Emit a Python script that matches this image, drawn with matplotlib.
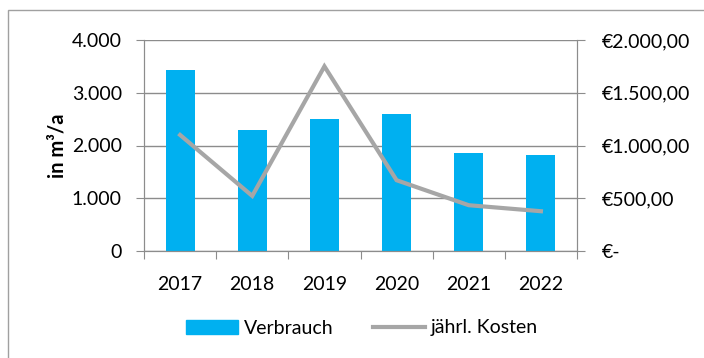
import matplotlib
matplotlib.use("Agg")
import matplotlib.pyplot as plt
from matplotlib.patches import Rectangle
from matplotlib.lines import Line2D

years = ["2017", "2018", "2019", "2020", "2021", "2022"]
verbrauch = [3440, 2300, 2500, 2600, 1850, 1820]
kosten = [1100, 522, 1750, 671, 434, 377]
left_ticks = [0, 1000, 2000, 3000, 4000]
left_labels = ["0", "1.000", "2.000", "3.000", "4.000"]
right_ticks = [0, 500, 1000, 1500, 2000]
right_labels = ["€-", "€500,00", "€1.000,00", "€1.500,00", "€2.000,00"]

plt.rcParams["font.family"] = ["Lato", "DejaVu Sans"]
fs = 14
grid_c = "#8c8c8c"
bar_c = "#00b0f0"
line_c = "#a6a6a6"

fig = plt.figure(figsize=(7.04, 3.58), dpi=100)
W, H = 704, 358
fig.patches.append(Rectangle((8 / W, -0.1), 1.2, 1 - 10 / H + 0.1,
                             transform=fig.transFigure, fill=False,
                             edgecolor="#a0a0a0", linewidth=1.0))

ax = fig.add_axes([144 / W, 1 - 251 / H, (577 - 144) / W, (251 - 40) / H])
x = list(range(len(years)))
ax.bar(x, verbrauch, width=0.4, color=bar_c, zorder=2)
ax.set_xlim(-0.5, len(years) - 0.5)
ax.set_ylim(0, 4000)
ax.set_yticks(left_ticks)
ax.set_yticklabels(left_labels, fontsize=fs)
ax.yaxis.grid(True, color=grid_c, linewidth=1.0, zorder=0)
ax.set_axisbelow(True)
ax.set_xticks([i - 0.5 for i in range(len(years) + 1)], minor=False)
ax.set_xticklabels([])
ax.set_xticks(x, minor=True)
ax.set_xticklabels(years, minor=True, fontsize=fs)
ax.tick_params(axis="x", which="major", length=6, color=grid_c, direction="out")
ax.tick_params(axis="x", which="minor", length=0, pad=18)
ax.tick_params(axis="y", length=6, color=grid_c, pad=10)
ax.spines["top"].set_visible(False)
for s in ["left", "right", "bottom"]:
    ax.spines[s].set_color(grid_c)
ax.set_ylabel("in m³/a", fontsize=fs + 0.5, fontweight="bold", labelpad=3)

ax2 = ax.twinx()
ax2.plot(x, kosten, color=line_c, linewidth=3, zorder=3, solid_joinstyle="miter")
ax2.set_ylim(0, 2000)
ax2.set_yticks(right_ticks)
ax2.set_yticklabels(right_labels, fontsize=fs)
ax2.tick_params(axis="y", length=6, color=grid_c, pad=12)
ax2.spines["top"].set_visible(False)
for s in ["left", "right", "bottom"]:
    ax2.spines[s].set_color(grid_c)

handles = [Rectangle((0, 0), 1, 1, color=bar_c),
           Line2D([0], [0], color=line_c, linewidth=3)]
fig.legend(handles, ["Verbrauch", "jährl. Kosten"], loc="center",
           bbox_to_anchor=(362 / W, 1 - 328 / H), ncol=2, frameon=False,
           fontsize=fs, handlelength=2.7, handleheight=0.75,
           handletextpad=0.3, columnspacing=2.0)

fig.savefig("out.png", dpi=100)
